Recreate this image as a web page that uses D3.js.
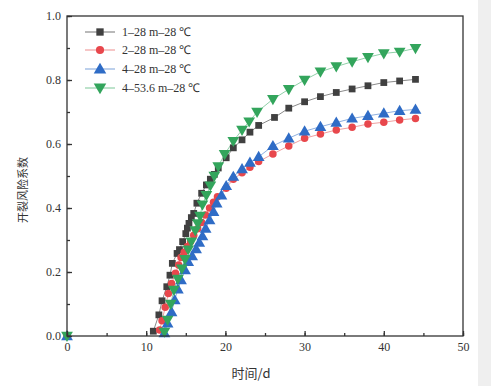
<!DOCTYPE html>
<html><head><meta charset="utf-8">
<script src="https://cdn.jsdelivr.net/npm/d3@7"></script>
<style>body{margin:0;background:#fff}svg{display:block}</style>
</head><body>
<svg id="c" width="491" height="386"></svg>
<script>
const seriesNames = ["1–28 m–28 ℃", "2–28 m–28 ℃", "4–28 m–28 ℃", "4–53.6 m–28 ℃"];
const xTicks = [0, 10, 20, 30, 40, 50];
const yTicks = [0.0, 0.2, 0.4, 0.6, 0.8, 1.0];

const s1x = [0,10.9,11.6,12.0,12.6,13.0,13.3,13.9,14.2,14.6,15.0,15.2,15.4,15.7,16.0,16.4,17.0,17.6,18.1,18.6,19.1,20.1,21.0,22.1,23.1,24.2,26.2,28.0,30.0,32.0,34.0,36.0,38.0,40.0,42.0,44.0];
const s1y = [0,0.015,0.066,0.11,0.154,0.19,0.227,0.258,0.27,0.295,0.32,0.337,0.352,0.37,0.383,0.415,0.446,0.472,0.49,0.505,0.525,0.557,0.588,0.613,0.637,0.658,0.683,0.712,0.732,0.748,0.761,0.772,0.782,0.792,0.797,0.802];

const s2x = [0,11.7,12.0,12.4,12.8,13.2,13.7,14.1,14.4,14.8,15.2,15.6,16.0,16.5,17.0,17.5,18.0,18.5,19.0,20.1,21.0,22.1,23.1,24.2,26.0,28.0,30.0,32.0,34.0,36.0,38.0,40.0,42.0,44.0];
const s2y = [0,0.019,0.048,0.09,0.133,0.164,0.196,0.222,0.245,0.262,0.28,0.295,0.315,0.335,0.355,0.378,0.40,0.418,0.435,0.462,0.49,0.51,0.527,0.545,0.569,0.594,0.618,0.631,0.644,0.652,0.6625,0.668,0.675,0.68];

const s3x = [0,12.3,12.7,13.2,13.6,14.0,14.4,14.9,15.3,15.8,16.3,16.7,17.1,17.5,18.0,18.5,18.9,19.5,20.1,21.0,22.1,23.1,24.2,26.0,28.0,30.0,32.0,34.0,36.0,38.0,40.0,42.0,44.0];
const s3y = [0,0.009,0.04,0.075,0.1125,0.146,0.175,0.206,0.232,0.25,0.272,0.292,0.312,0.336,0.362,0.388,0.415,0.44,0.469,0.498,0.522,0.542,0.56,0.594,0.618,0.64,0.654,0.667,0.68,0.688,0.696,0.704,0.708];

const s4x = [0,12.3,12.7,13.1,13.5,14.0,14.5,14.9,15.3,15.7,16.2,16.5,16.8,17.1,17.6,18.1,18.6,19.1,19.9,21.0,22.1,23.0,24.0,26.0,28.0,30.0,32.0,34.0,36.0,38.0,40.0,42.0,44.0];
const s4y = [0,0.013,0.05,0.10,0.144,0.178,0.21,0.24,0.27,0.295,0.33,0.352,0.375,0.41,0.44,0.47,0.50,0.53,0.568,0.609,0.644,0.67,0.70,0.74,0.771,0.80,0.826,0.842,0.857,0.871,0.883,0.888,0.899];

const colors = ["#404040", "#e8474c", "#2f6cc6", "#33a55c"];
const lineColors = ["#8a8a8a", "#f0a0a0", "#8fb0e0", "#90d0a8"];
const shapes = [d3.symbolSquare, d3.symbolCircle, d3.symbolTriangle, d3.symbolTriangle];
const sizes = [46, 44, 60, 60];
const rot = [0, 0, 0, 180];

const data = [[s1x,s1y],[s2x,s2y],[s3x,s3y],[s4x,s4y]].map(([xs,ys]) => xs.map((x,i)=>({x, y: ys[i]})));

const svg = d3.select("#c");
svg.append("rect").attr("x",478).attr("y",0).attr("width",13).attr("height",386).attr("fill","#efefef");

const L = 67, R = 463, T = 16, B = 336;
const x = d3.scaleLinear().domain([0,50]).range([L,R]);
const y = d3.scaleLinear().domain([0,1]).range([B,T]);

const font = "'Liberation Serif','Times New Roman',serif";

// series lines (no segment along the zero baseline)
const line = d3.line().x(d=>x(d.x)).y(d=>y(d.y));
data.forEach((pts, k) => {
  svg.append("path").datum(pts.slice(1)).attr("d", line).attr("fill","none")
    .attr("stroke", lineColors[k]).attr("stroke-width", 1);
});
data.forEach((pts, k) => {
  const sym = d3.symbol().type(shapes[k]).size(sizes[k]);
  svg.append("g").selectAll("path").data(pts).join("path")
    .attr("d", sym)
    .attr("transform", d => `translate(${x(d.x)},${y(d.y) + (k===2?0.8:(k===3?-0.8:0))}) rotate(${rot[k]})`)
    .attr("fill", colors[k]);
});

// axes
const axisColor = "#333";
const xMinor = d3.range(0, 51, 5);
const yMinor = d3.range(0, 1.001, 0.1);
const gx = svg.append("g").attr("transform", `translate(0,${B})`)
  .call(d3.axisBottom(x).tickValues(xMinor).tickSize(-3).tickFormat(""));
const gx2 = svg.append("g").attr("transform", `translate(0,${B})`)
  .call(d3.axisBottom(x).tickValues(xTicks).tickSize(-5).tickPadding(9).tickFormat(d3.format("d")));
const gy = svg.append("g").attr("transform", `translate(${L},0)`)
  .call(d3.axisLeft(y).tickValues(yMinor).tickSize(-3).tickFormat(""));
const gy2 = svg.append("g").attr("transform", `translate(${L},0)`)
  .call(d3.axisLeft(y).tickValues(yTicks).tickSize(-5).tickPadding(6).tickFormat(d3.format(".1f")));
[gx,gx2,gy,gy2].forEach(g => {
  g.select(".domain").remove();
  g.selectAll("line").attr("stroke", axisColor).attr("stroke-width", 1.3);
  g.selectAll("text").attr("font-family", font).attr("font-size", 12).attr("fill", "#333");
});
gx2.selectAll("text").attr("dy", "0.5em");
svg.append("rect").attr("x",L).attr("y",T).attr("width",R-L).attr("height",B-T)
  .attr("fill","none").attr("stroke",axisColor).attr("stroke-width",1.3);

// axis titles
svg.append("text").attr("x", 251).attr("y", 378).attr("text-anchor","middle")
  .attr("font-family", "'Noto Sans CJK SC', sans-serif").attr("font-size", 13).attr("fill","#333").text("时间/d");
svg.append("text").attr("transform", "translate(27,190) rotate(-90)").attr("text-anchor","middle")
  .attr("font-family", "'Noto Sans CJK SC', sans-serif").attr("font-size", 11).attr("fill","#333").text("开裂风险系数");

// legend
const legY = [32, 50, 69, 88];
seriesNames.forEach((name, k) => {
  const g = svg.append("g").attr("transform", `translate(0,${legY[k]})`);
  g.append("line").attr("x1",85).attr("x2",115).attr("y1",0).attr("y2",0)
    .attr("stroke", lineColors[k]).attr("stroke-width",1.2);
  g.append("path").attr("d", d3.symbol().type(shapes[k]).size(sizes[k]+8)())
    .attr("transform", `translate(100,${k===2?1:(k===3?-1:0)}) rotate(${rot[k]})`).attr("fill", colors[k]);
  g.append("text").attr("x",122).attr("y",0).attr("dy","0.35em")
    .attr("font-family", font).attr("font-size", 12).attr("fill","#333").text(name);
});
</script>
</body></html>
